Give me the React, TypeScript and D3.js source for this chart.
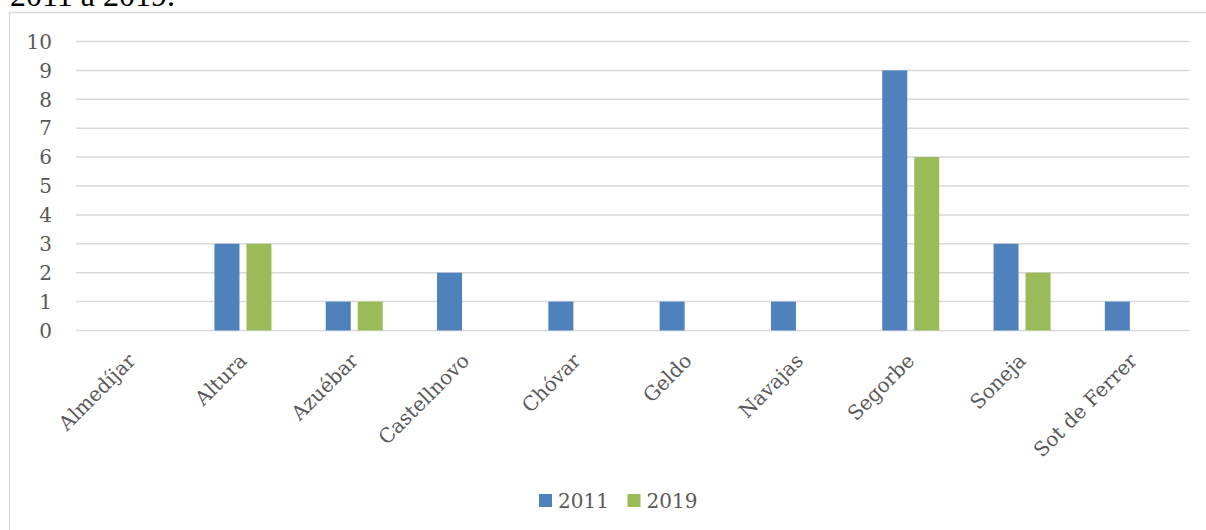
import React from "react";
import * as d3 from "d3";

const categories = ["Almedíjar", "Altura", "Azuébar", "Castellnovo", "Chóvar", "Geldo", "Navajas", "Segorbe", "Soneja", "Sot de Ferrer"];
const values2011 = [0, 3, 1, 2, 1, 1, 1, 9, 3, 1];
const values2019 = [0, 3, 1, 0, 0, 0, 0, 6, 2, 0];
const seriesNames = ["2011", "2019"];
const seriesColors = ["#4F81BD", "#9BBB59"];
const yTicks = [0, 1, 2, 3, 4, 5, 6, 7, 8, 9, 10];
const titleText = "2011 a 2019.";

const W = 1206;
const H = 530;
const plotLeft = 76;
const plotRight = 1189;
const plotTop = 41.5;
const plotBottom = 330.5;
const FONT = "'DejaVu Serif', serif";

export default function App() {
  const x = d3.scaleBand<string>().domain(categories).range([plotLeft, plotRight]).padding(0);
  const y = d3.scaleLinear().domain([0, 10]).range([plotBottom, plotTop]);
  const bw = x.bandwidth();
  const barW = bw * 0.2246;
  const offset = bw * 0.1437;
  const series = [values2011, values2019];

  return (
    <svg width={W} height={H} style={{ position: "absolute", left: 0, top: 0, background: "#fff" }}>
      <rect x={0} y={0} width={W} height={H} fill="#fff" />
      <text x={10} y={6} fontFamily="'Liberation Serif', serif" fontSize={32} fill="#000">{titleText}</text>
      <path d={`M${W + 5},12.5 H9.5 V${H + 5}`} fill="none" stroke="#d9d9d9" strokeWidth={1.3} />
      {yTicks.map((t) => (
        <g key={t}>
          <line x1={plotLeft} x2={plotRight} y1={y(t)} y2={y(t)} stroke="#d9d9d9" strokeWidth={1.5} />
          <text x={52} y={y(t)} dy="0.36em" textAnchor="end" fontFamily={FONT} fontSize={20} fill="#595959">{t}</text>
        </g>
      ))}
      {series.map((vals, si) =>
        vals.map((v, i) => {
          if (v <= 0) return null;
          const cx = (x(categories[i]) as number) + bw / 2 + (si === 0 ? -offset : offset);
          return (
            <rect key={`${si}-${i}`} x={cx - barW / 2} y={y(v)} width={barW} height={y(0) - y(v)} fill={seriesColors[si]} />
          );
        })
      )}
      {categories.map((c) => {
        const cx = (x(c) as number) + bw / 2 + 5;
        const cy = 362;
        return (
          <text key={c} x={cx} y={cy} textAnchor="end" transform={`rotate(-45 ${cx} ${cy})`} fontFamily={FONT} fontSize={20} fill="#595959">{c}</text>
        );
      })}
      {seriesNames.map((n, i) => {
        const lx = i === 0 ? 539 : 627.5;
        return (
          <g key={n}>
            <rect x={lx} y={494} width={13} height={13} fill={seriesColors[i]} />
            <text x={lx + 19} y={508} fontFamily={FONT} fontSize={20} fill="#595959">{n}</text>
          </g>
        );
      })}
    </svg>
  );
}
